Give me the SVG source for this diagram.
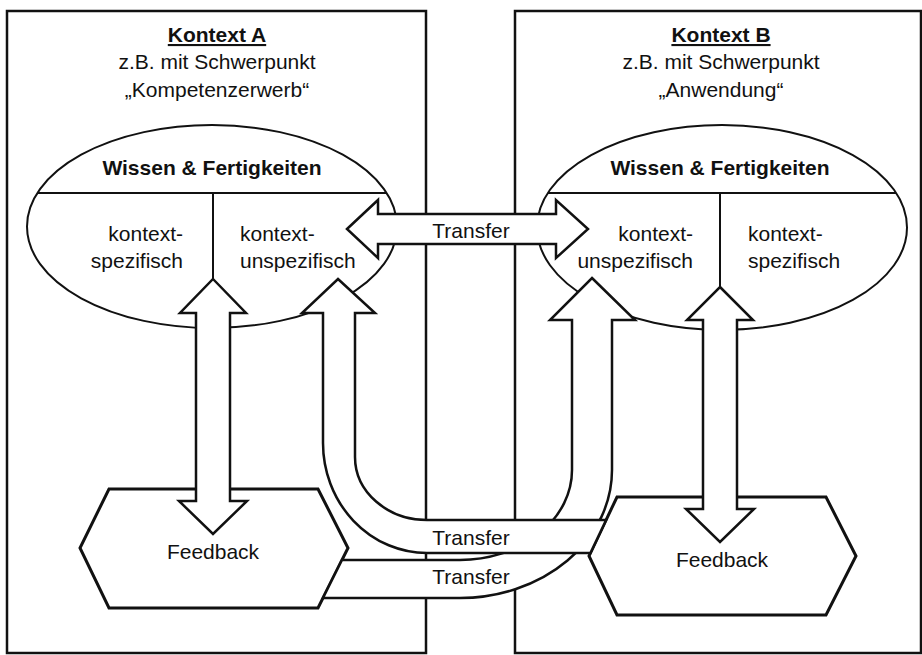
<svg xmlns="http://www.w3.org/2000/svg" width="922" height="655" viewBox="0 0 922 655">
<style>
text{font-family:"Liberation Sans",Arial,sans-serif;font-size:21px;fill:#111;}
.b{font-weight:bold;}
.c{text-anchor:middle;}
.e{text-anchor:end;}
.u{text-decoration:underline;}
.box{fill:#fff;stroke:#111;stroke-width:2.5;}
.ell{fill:#fff;stroke:#111;stroke-width:2;}
.ln{stroke:#111;stroke-width:2;fill:none;}
.hex{fill:#fff;stroke:#111;stroke-width:3;stroke-linejoin:miter;}
.arr{fill:#fff;stroke:#111;stroke-width:2.5;stroke-linejoin:miter;}
</style>
<rect width="922" height="655" fill="#fff"/>
<g id="kontext-a">
<rect class="box" x="7" y="11" width="419" height="642"/>
<text class="b c u" x="217" y="42">Kontext A</text>
<text class="c" x="217" y="69">z.B. mit Schwerpunkt</text>
<text class="c" x="217" y="97">„Kompetenzerwerb“</text>
</g>
<g id="kontext-b">
<rect class="box" x="515" y="11" width="406" height="642"/>
<text class="b c u" x="721" y="42">Kontext B</text>
<text class="c" x="721" y="69">z.B. mit Schwerpunkt</text>
<text class="c" x="721" y="97">„Anwendung“</text>
</g>
<g id="wissen-a">
<ellipse class="ell" cx="212" cy="226.5" rx="185" ry="101.5"/>
<line class="ln" x1="37.4" y1="193" x2="386.6" y2="193"/>
<line class="ln" x1="213" y1="193" x2="213" y2="295"/>
<text class="b c" x="212" y="175">Wissen &amp; Fertigkeiten</text>
<text class="e" x="183" y="241">kontext-</text>
<text class="e" x="183" y="268">spezifisch</text>
<text x="240" y="241">kontext-</text>
<text x="240" y="268">unspezifisch</text>
</g>
<g id="wissen-b">
<ellipse class="ell" cx="722" cy="227.5" rx="185" ry="102.5"/>
<line class="ln" x1="548" y1="193" x2="896" y2="193"/>
<line class="ln" x1="720" y1="193" x2="720" y2="300"/>
<text class="b c" x="720" y="175">Wissen &amp; Fertigkeiten</text>
<text class="e" x="693" y="241">kontext-</text>
<text class="e" x="693" y="268">unspezifisch</text>
<text x="748" y="241">kontext-</text>
<text x="748" y="268">spezifisch</text>
</g>
<g id="feedback-a">
<polygon class="hex" points="109,489 318,489 348,548 318,608 109,608 80,548"/>
<text class="c" x="213" y="559">Feedback</text>
</g>
<g id="feedback-b">
<polygon class="hex" points="617,497 826,497 856,556 826,615 617,615 589,556"/>
<text class="c" x="722" y="567">Feedback</text>
</g>
<g id="connectors">
<g id="transfer-a-to-b">
<path class="arr" d="M592,278 L635,320 L612,320 L612,470 A152,128 0 0 1 460,598 L323,598 L342,560 L460,560 A112,90 0 0 0 572,470 L572,320 L550,320 Z"/>
<text class="c" x="471" y="584">Transfer</text>
</g>
<g id="transfer-b-to-a">
<path class="arr" d="M338,279 L375,313 L355,313 L355,457 A72,63 0 0 0 427,520 L606.1,520 L590.4,553 L427,553 A104,110 0 0 1 323,443 L323,313 L302,313 Z"/>
<text class="c" x="471" y="545">Transfer</text>
</g>
<path id="feedback-loop-a" class="arr" d="M213,279 L246,313 L230,313 L230,501 L247,501 L213,534 L179,501 L196,501 L196,313 L180,313 Z"/>
<path id="feedback-loop-b" class="arr" d="M720,287 L753,320 L737,320 L737,509 L754,509 L720,542 L686,509 L703,509 L703,320 L687,320 Z"/>
<g id="transfer-top">
<path class="arr" d="M347,229 L378,200 L378,214 L556,214 L556,200 L588,229 L556,258 L556,244 L378,244 L378,258 Z"/>
<text class="c" x="471" y="238">Transfer</text>
</g>
</g>
</svg>
